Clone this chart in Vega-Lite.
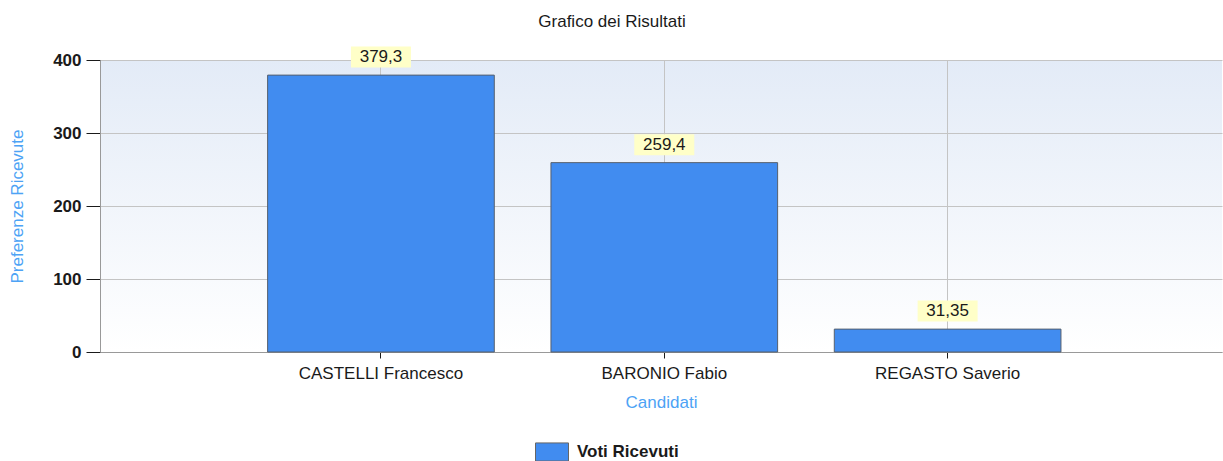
{
  "$schema": "https://vega.github.io/schema/vega-lite/v6.json",
  "width": 1122,
  "height": 292,
  "autosize": {"type": "none"},
  "padding": {"left": 100, "top": 60, "right": 1, "bottom": 109},
  "background": "white",
  "title": {
    "text": "Grafico dei Risultati",
    "font": "Liberation Sans",
    "fontSize": 17,
    "fontWeight": "normal",
    "color": "#1a1a1a",
    "anchor": "middle",
    "dx": -49,
    "offset": 16
  },
  "config": {
    "locale": {"number": {"decimal": ",", "thousands": ".", "grouping": [3], "currency": ["€", ""]}},
    "view": {
      "fill": {
        "gradient": "linear",
        "x1": 0, "y1": 0, "x2": 0, "y2": 1,
        "stops": [
          {"offset": 0, "color": "#e3ebf7"},
          {"offset": 1, "color": "#ffffff"}
        ]
      },
      "stroke": null
    }
  },
  "data": {
    "values": [
      {"candidato": "CASTELLI Francesco", "voti": 379.3},
      {"candidato": "BARONIO Fabio", "voti": 259.4},
      {"candidato": "REGASTO Saverio", "voti": 31.35}
    ]
  },
  "encoding": {
    "x": {
      "field": "candidato",
      "type": "nominal",
      "sort": null,
      "scale": {"paddingInner": 0.2, "paddingOuter": 0.58, "align": 0.51},
      "axis": {
        "title": "Candidati",
        "titleFont": "Liberation Sans",
        "titleFontSize": 17,
        "titleFontWeight": "normal",
        "titleColor": "#4da3f5",
        "titlePadding": 13,
        "labelAngle": 0,
        "labelFont": "Liberation Sans",
        "labelFontSize": 17,
        "labelColor": "#1a1a1a",
        "labelPadding": 7,
        "tickSize": 6,
        "tickColor": "#1a1a1a",
        "domainColor": "#999999",
        "grid": true,
        "gridColor": "#c4c4c4",
        "bandPosition": 0.5
      }
    }
  },
  "layer": [
    {
      "mark": {"type": "bar", "stroke": "#56606e", "strokeWidth": 1},
      "encoding": {
        "y": {
          "field": "voti",
          "type": "quantitative",
          "scale": {"domain": [0, 400], "nice": false},
          "axis": {
            "title": "Preferenze Ricevute",
            "titleFont": "Liberation Sans",
            "titleFontSize": 17,
            "titleFontWeight": "normal",
            "titleColor": "#4da3f5",
            "titlePadding": 26,
            "values": [0, 100, 200, 300, 400],
            "labelFont": "Liberation Sans",
            "labelFontSize": 17,
            "labelFontWeight": "bold",
            "labelColor": "#1a1a1a",
            "labelPadding": 5,
            "tickSize": 14,
            "tickColor": "#1a1a1a",
            "domainColor": "#999999",
            "grid": true,
            "gridColor": "#c4c4c4"
          }
        },
        "color": {
          "datum": "Voti Ricevuti",
          "type": "nominal",
          "scale": {"range": ["#418CF0"]},
          "legend": {
            "orient": "none",
            "legendX": 435,
            "legendY": 375,
            "title": null,
            "symbolType": "M-1,-0.55H1V0.55H-1Z",
            "symbolSize": 1089,
            "symbolStrokeColor": "#666666",
            "symbolStrokeWidth": 1,
            "labelFont": "Liberation Sans",
            "labelFontSize": 17,
            "labelFontWeight": "bold",
            "labelColor": "#1a1a1a",
            "labelOffset": 8
          }
        }
      }
    },
    {
      "mark": {
        "type": "point",
        "shape": "M-1,-0.35H1V0.35H-1Z",
        "filled": true,
        "fill": "#ffffc8",
        "opacity": 1,
        "size": 3600,
        "strokeWidth": 0,
        "yOffset": -18
      },
      "encoding": {
        "y": {"field": "voti", "type": "quantitative"}
      }
    },
    {
      "mark": {
        "type": "text",
        "font": "Liberation Sans",
        "fontSize": 17,
        "color": "#1a1a1a",
        "baseline": "middle",
        "align": "center",
        "yOffset": -18
      },
      "encoding": {
        "y": {"field": "voti", "type": "quantitative"},
        "text": {"field": "voti", "type": "quantitative", "format": "~r"}
      }
    }
  ]
}
